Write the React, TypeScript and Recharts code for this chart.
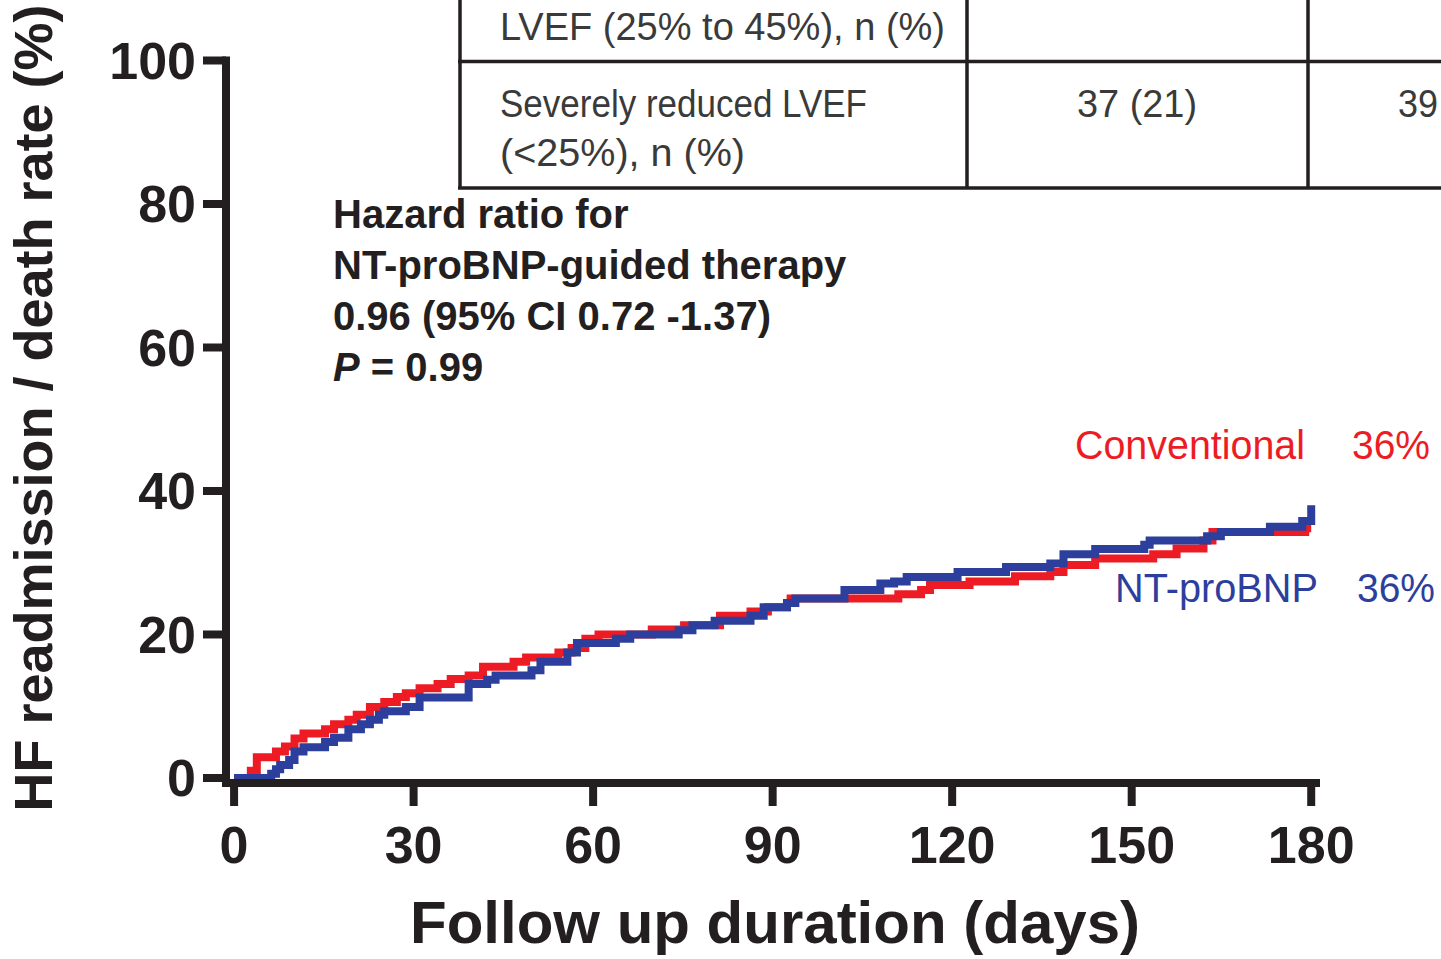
import { Line, LineChart, XAxis, YAxis } from "recharts";

const SANS = "'Liberation Sans', Arial, Helvetica, sans-serif";
const INK = "#231f20";
const RED = "#ed1c24";
const BLUE = "#2c3f9c";

const xTicks = [0, 30, 60, 90, 120, 150, 180];
const yTicks = [0, 20, 40, 60, 80, 100];

// Conventional arm: cumulative HF readmission / death (%)
const conventionalDays = [
  0, 2.8, 3.8, 7, 8.5, 10.1, 11.6, 15.2, 16.7, 19.1, 20.5, 22.7, 25.1, 27.2, 28.7, 31, 34, 36.2, 39.2, 41.6,
  46.7, 48.8, 54.2, 56.4, 58.7, 60.9, 69.8, 75.2, 81.2, 86.3, 89.2, 92.4, 93, 111, 114.8, 116.3, 122.9, 130.5,
  136.4, 138.6, 143.9, 153.6, 157.5, 162, 163.5, 179, 180,
];
const conventionalRates = [
  0, 1, 2.9, 3.7, 4.4, 5.5, 6.2, 6.8, 7.5, 8.1, 8.8, 9.9, 10.6, 11.3, 11.8, 12.5, 13.1, 13.8, 14.3, 15.5,
  16.2, 16.8, 17.5, 18.1, 19.4, 20, 20.7, 21.3, 22.6, 23.2, 23.8, 24.4, 25, 25.6, 26.2, 26.9, 27.4, 28.1,
  28.7, 29.7, 30.6, 31.2, 32, 33.1, 34.3, 34.8, 34.8,
];

// NT-proBNP-guided arm
const ntProBnpDays = [
  0, 6.2, 7, 7.7, 9.2, 10.1, 11.6, 15.2, 16.7, 19.1, 21.2, 22.7, 24.2, 25.1, 28.7, 31, 39.2, 42.3, 43.7, 49.7,
  51.2, 55.7, 57.3, 63.8, 66.2, 74.3, 76.6, 80.3, 86.3, 88.5, 92.4, 93.8, 102, 108, 110.3, 112.4, 120.9, 129,
  136.4, 138.6, 143.9, 152.1, 153, 162.6, 164.9, 173.1, 178.5, 180,
];
const ntProBnpRates = [
  0, 0.6, 1.2, 1.8, 2.5, 3.7, 4.3, 5, 5.6, 6.8, 7.5, 8.1, 8.8, 9.3, 9.9, 11.2, 13.1, 13.7, 14.3, 15,
  16.2, 17.5, 18.8, 19.4, 20, 20.6, 21.3, 21.9, 22.6, 23.8, 24.4, 25, 26.2, 27.1, 27.4, 28, 28.7, 29.4,
  29.9, 31.2, 31.9, 32.5, 33.1, 33.7, 34.3, 35, 35.8, 38,
];

const hazardLines = ["Hazard ratio for", "NT-proBNP-guided therapy", "0.96 (95% CI 0.72 -1.37)"];
const pValue = "= 0.99";

const seriesNames = ["Conventional", "NT-proBNP"];
const seriesFinal = ["36%", "36%"];

const tableLabels = ["LVEF (25% to 45%), n (%)", "Severely reduced LVEF", "(<25%), n (%)"];
const tableValues = ["37 (21)", "39"];

const conventional = conventionalDays.map((x, i) => ({ x, y: conventionalRates[i] }));
const ntProBnp = ntProBnpDays.map((x, i) => ({ x, y: ntProBnpRates[i] }));

function Overlay() {
  return (
    <svg
      width={1441}
      height={959}
      style={{ position: "absolute", left: 0, top: 0, pointerEvents: "none" }}
    >
      {/* table fragment */}
      <g stroke={INK} strokeWidth={3.5}>
        <line x1={460} y1={0} x2={460} y2={189} />
        <line x1={967} y1={0} x2={967} y2={189} />
        <line x1={1308} y1={0} x2={1308} y2={189} />
        <line x1={458} y1={61.5} x2={1441} y2={61.5} />
        <line x1={458} y1={188} x2={1441} y2={188} />
      </g>
      <g fontFamily={SANS} fontSize={38} fill="#3a3a3a">
        <text x={500} y={40} textLength={445} lengthAdjust="spacingAndGlyphs">{tableLabels[0]}</text>
        <text x={500} y={117} textLength={367} lengthAdjust="spacingAndGlyphs">{tableLabels[1]}</text>
        <text x={500} y={166} textLength={245} lengthAdjust="spacingAndGlyphs">{tableLabels[2]}</text>
        <text x={1077} y={117} textLength={120} lengthAdjust="spacingAndGlyphs">{tableValues[0]}</text>
        <text x={1398} y={117} textLength={40} lengthAdjust="spacingAndGlyphs">{tableValues[1]}</text>
      </g>

      {/* hazard ratio annotation */}
      <g fontFamily={SANS} fontSize={40} fontWeight={700} fill={INK}>
        <text x={333} y={228}>{hazardLines[0]}</text>
        <text x={333} y={279}>{hazardLines[1]}</text>
        <text x={333} y={330}>{hazardLines[2]}</text>
        <text x={333} y={381}>
          <tspan fontStyle="italic">P</tspan> {pValue}
        </text>
      </g>

      {/* series labels */}
      <g fontFamily={SANS} fontSize={40}>
        <text x={1075} y={459} fill={RED} textLength={230} lengthAdjust="spacingAndGlyphs">{seriesNames[0]}</text>
        <text x={1352} y={459} fill={RED} textLength={78} lengthAdjust="spacingAndGlyphs">{seriesFinal[0]}</text>
        <text x={1115} y={602} fill={BLUE} textLength={203} lengthAdjust="spacingAndGlyphs">{seriesNames[1]}</text>
        <text x={1357} y={602} fill={BLUE} textLength={78} lengthAdjust="spacingAndGlyphs">{seriesFinal[1]}</text>
      </g>

      {/* axis titles */}
      <text
        x={52}
        y={408}
        transform="rotate(-90 52 408)"
        textAnchor="middle"
        fontFamily={SANS}
        fontSize={54}
        fontWeight={700}
        fill={INK}
      >
        HF readmission / death rate (%)
      </text>
      <text x={775} y={943} textAnchor="middle" fontFamily={SANS} fontSize={60} fontWeight={700} fill={INK}>
        Follow up duration (days)
      </text>
    </svg>
  );
}

export default function App() {
  const tickStyle = { fill: INK, fontSize: 52, fontWeight: 700, fontFamily: SANS };
  const axisLine = { stroke: INK, strokeWidth: 8, strokeLinecap: "square" as const };
  const tickLine = { stroke: INK, strokeWidth: 8 };

  return (
    <div
      style={{
        position: "absolute",
        left: 0,
        top: 0,
        width: 1441,
        height: 959,
        overflow: "hidden",
        background: "#fff",
      }}
    >
      <LineChart width={1441} height={959} margin={{ top: 60.5, right: 125, bottom: 116, left: 126 }}>
        <XAxis
          type="number"
          dataKey="x"
          domain={[-1.35, 180.8]}
          ticks={xTicks}
          interval={0}
          height={60}
          axisLine={axisLine}
          tickLine={tickLine}
          tickSize={23}
          tickMargin={20}
          tick={tickStyle}
          allowDataOverflow
        />
        <YAxis
          type="number"
          domain={[-0.7, 100]}
          ticks={yTicks}
          interval={0}
          width={100}
          axisLine={axisLine}
          tickLine={tickLine}
          tickSize={23}
          tickMargin={7}
          tick={tickStyle}
          allowDataOverflow
        />
        <Line
          data={conventional}
          dataKey="y"
          type="stepAfter"
          stroke={RED}
          strokeWidth={8}
          dot={false}
          activeDot={false}
          isAnimationActive={false}
          strokeLinejoin="miter"
        />
        <Line
          data={ntProBnp}
          dataKey="y"
          type="stepAfter"
          stroke={BLUE}
          strokeWidth={8}
          dot={false}
          activeDot={false}
          isAnimationActive={false}
          strokeLinejoin="miter"
        />
      </LineChart>
      <Overlay />
    </div>
  );
}
